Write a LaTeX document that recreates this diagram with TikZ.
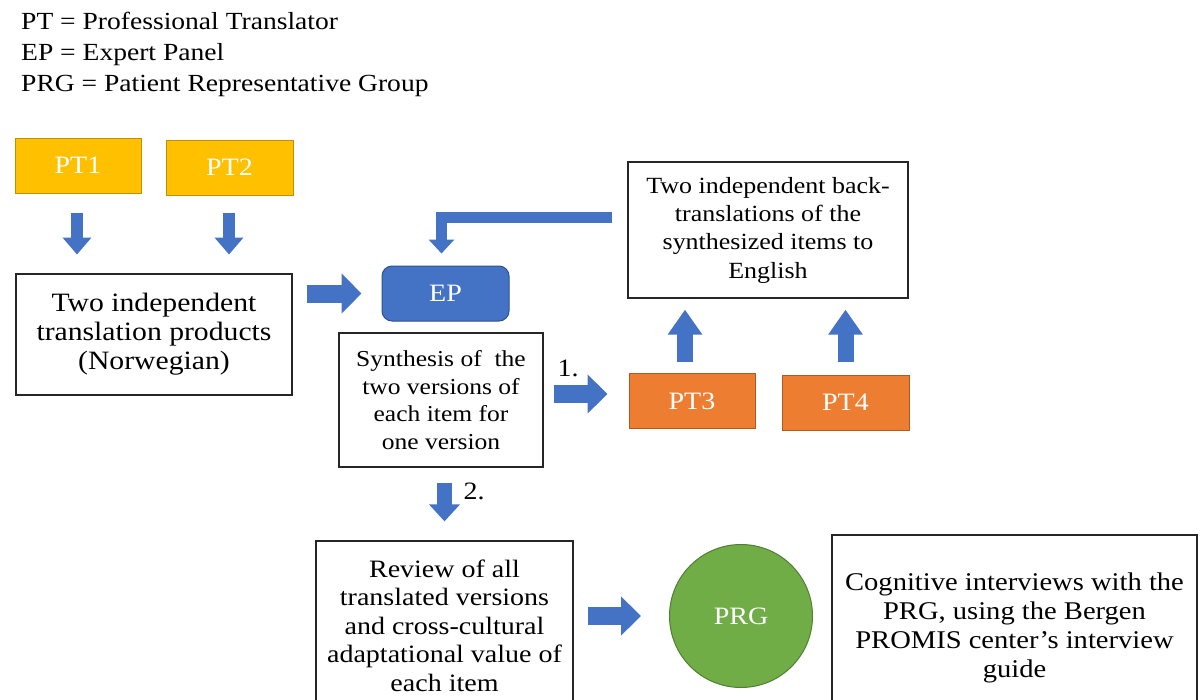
\documentclass[tikz,border=0pt]{standalone}
\usepackage{fontspec}
\setmainfont{Liberation Serif}[FakeStretch=1.12]
\usetikzlibrary{arrows.meta,shapes.geometric}
\definecolor{gold}{HTML}{FFC000}
\definecolor{goldb}{HTML}{C09000}
\definecolor{orng}{HTML}{ED7D31}
\definecolor{orngb}{HTML}{AE5A21}
\definecolor{blu}{HTML}{4472C4}
\definecolor{blub}{HTML}{2F528F}
\definecolor{grn}{HTML}{70AD47}
\definecolor{grnb}{HTML}{507E32}
\tikzset{
  txt/.style={font=\fontsize{25}{28.5}\selectfont, text=black},
  txtbox/.style={txt, draw=black!85, line width=1.3pt, fill=white, align=center, inner sep=0pt},
  ptbox/.style={font=\fontsize{25}{28}\selectfont, text=white, inner sep=0pt, line width=1pt, minimum width=126pt, minimum height=55pt},
  goldbox/.style={ptbox, fill=gold, draw=goldb},
  orngbox/.style={ptbox, fill=orng, draw=orngb},
  epbox/.style={ptbox, fill=blu, draw=blub, rounded corners=10pt, minimum width=127pt},
  prgcirc/.style={circle, fill=grn, draw=grnb, line width=1pt, minimum size=143pt, inner sep=0pt, font=\fontsize{25}{28}\selectfont, text=white},
  barrow/.style={draw=blu, line width=#1pt, line cap=butt, line join=miter},
  vtip/.style={-{Triangle[width=28pt,length=17pt]}},
}
\begin{document}
\begin{tikzpicture}[x=1pt,y=-1pt]
\useasboundingbox (0,0) rectangle (1201,699);
\fill[white] (0,0) rectangle (1201,699);

% legend
\node[txt, anchor=north west, align=left, inner sep=0pt, font=\fontsize{24.6}{31}\selectfont] (legend) at (21,12)
  {PT = Professional Translator\\EP = Expert Panel\\PRG = Patient Representative Group};

% nodes
\node[goldbox] (pt1) at (78,165.5) {PT1};
\node[goldbox, minimum width=127pt] (pt2) at (229.5,167.5) {PT2};
\node[txtbox, minimum width=276pt, minimum height=121pt, font=\fontsize{26.5}{29}\selectfont] (trans) at (154,334.5)
  {Two independent\\translation products\\(Norwegian)};
\node[epbox] (ep) at (445.5,293.5) {EP};
\node[txtbox, minimum width=280pt, minimum height=136pt, font=\fontsize{23.2}{28.3}\selectfont] (back) at (768,230)
  {Two independent back-\\translations of the\\synthesized items to\\English};
\node[orngbox] (pt3) at (692,401) {PT3};
\node[orngbox, minimum width=127pt] (pt4) at (845.5,402.5) {PT4};
\node[txtbox, minimum width=204pt, minimum height=134pt, font=\fontsize{22.8}{27.7}\selectfont] (synth) at (441,400)
  {Synthesis of~ the\\two versions of\\each item for\\one version};
\node[txtbox, minimum width=257pt, minimum height=169pt] (review) at (444.5,625.5)
  {Review of all\\translated versions\\and cross-cultural\\adaptational value of\\each item};
\node[txtbox, line width=2.4pt, minimum width=365pt, minimum height=170pt, font=\fontsize{25.5}{29}\selectfont] (cog) at (1014.5,620)
  {\raisebox{-8pt}[\height][\depth]{\begin{tabular}{@{}c@{}}Cognitive interviews with the\\PRG, using the Bergen\\PROMIS center’s interview\\guide\end{tabular}}};
\node[prgcirc] (prg) at (741,616) {PRG};

\node[txt, inner sep=0pt] (l1) at (568,368) {1.};
\node[txt, inner sep=0pt] (l2) at (474,491) {2.};

% helper points for the vertical arrows under the back-translation box
\coordinate (a3) at ([xshift=-7pt,yshift=11pt]pt3.north);
\coordinate (b3) at (a3 |- back.south);
\coordinate (a4) at ([yshift=12.5pt]pt4.north);
\coordinate (b4) at (a4 |- back.south);

% block arrows
\draw[barrow=12, vtip] ([xshift=-1pt,yshift=-19pt]pt1.south) -- ([xshift=-1pt,yshift=-61pt]pt1.south);
\draw[barrow=12, vtip] ([xshift=-0.5pt,yshift=-17pt]pt2.south) -- ([xshift=-0.5pt,yshift=-59pt]pt2.south);
\draw[barrow=18, -{Triangle[width=39pt,length=20pt]}] ([xshift=-75pt]ep.west) -- ([xshift=-20pt]ep.west);
\draw[barrow=11, -{Triangle[width=25pt,length=14pt]}] ([xshift=-15pt,yshift=13pt]back.west) -| ([xshift=-4pt,yshift=12pt]ep.north);
\draw[barrow=18, -{Triangle[width=38pt,length=20pt]}] ([xshift=10pt,yshift=6pt]synth.east) -- ([xshift=-21pt,yshift=7pt]pt3.west);
\draw[barrow=16, -{Triangle[width=33pt,length=25pt]}] (a3) -- ([yshift=-11pt]b3);
\draw[barrow=16, -{Triangle[width=33pt,length=25pt]}] (a4) -- ([yshift=-11pt]b4);
\draw[barrow=15, -{Triangle[width=30pt,length=17pt]}] ([xshift=3.5pt,yshift=-15pt]synth.south) -- ([yshift=19pt]review.north);
\draw[barrow=18, -{Triangle[width=38pt,length=20pt]}] ([xshift=-81pt]prg.west) -- ([xshift=-28pt]prg.west);
\end{tikzpicture}
\end{document}
